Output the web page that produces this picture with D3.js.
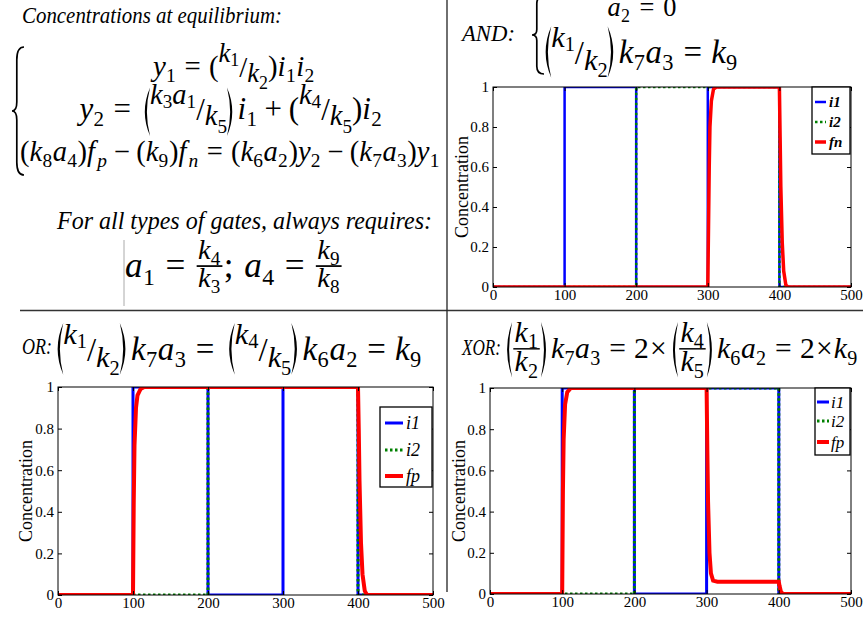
<!DOCTYPE html>
<html>
<head>
<meta charset="utf-8">
<script src="https://cdnjs.cloudflare.com/ajax/libs/d3/7.8.5/d3.min.js"></script>
<style>
  body { margin: 0; background: #fff; }
  svg { display: block; }
</style>
</head>
<body>
<div id="viz-container"></div>
<script>
// ---- data (time, concentration) ----
const xTicks = [0, 100, 200, 300, 400, 500];
const yTicks = [0, 0.2, 0.4, 0.6, 0.8, 1];

const i1 = [[0,0],[100,0],[100,1],[200,1],[200,0],[300,0],[300,1],[400,1],[400,0],[500,0]];
const i2 = [[0,0],[200,0],[200,1],[400,1],[400,0],[500,0]];

const fnAND = [[0,0],[300,0],[301,0.3],[302,0.6],[303,0.8],[305,0.93],[308,0.99],[312,1],[400,1],
               [401,0.75],[402,0.5],[404,0.22],[406,0.08],[409,0.01],[412,0],[500,0]];
const fpOR  = [[0,0],[100,0],[101,0.45],[102,0.72],[104,0.9],[106,0.96],[110,0.99],[115,1],[400,1],
               [401,0.8],[402,0.55],[404,0.25],[406,0.1],[409,0.02],[412,0],[500,0]];
const fpXOR = [[0,0],[100,0],[101,0.5],[102,0.75],[104,0.92],[107,0.98],[112,1],[300,1],
               [301,0.7],[302,0.45],[304,0.2],[306,0.1],[309,0.065],[315,0.06],[400,0.06],
               [401,0.04],[403,0.01],[406,0],[500,0]];

const FONT = '"Liberation Serif", "Times New Roman", serif';

//the svg is the canvas
let viz = d3.select("#viz-container")
    .append("svg")
        .attr("width", 863)
        .attr("height", 620)
        .style("background-color", "white");

// ---------- tiny equation layout helpers ----------
const v = (t, o = {}) => Object.assign({ t, it: true }, o);
const n = (t, o = {}) => Object.assign({ t, it: false }, o);
function vs(b, s) {
    let mk = isNaN(+s) ? v : n;
    return [v(b), mk(s, { dy: 0.22, s: 0.68, k: 0.02, pl: b === "f" ? 0.08 : 0.01 })];
}
const op = (t, sp = 0.28) => n(t, { pl: sp, pr: sp });
const P = (c, top, bot) => ({ paren: c, top, bot });
function skew(num, den) {
    return [
        num.map(([b, s]) => [v(b, { dy: -0.5, s: 0.92 }), n(s, { dy: -0.36, s: 0.62 })]),
        n("/", { dy: 0.02 }),
        den.map(([b, s]) => [v(b, { dy: 0.2, s: 0.92 }), n(s, { dy: 0.44, s: 0.62 })])
    ];
}
const frac = (num, den, o) => Object.assign({ frac: true, num, den }, o);

function layout(g, items, size) {
    let x = 0;
    items.forEach(it => {
        if (it.gap !== undefined) { x += it.gap * size; return; }
        if (it.paren) {
            let w = 0.34 * size, y0 = it.top * size, y1 = it.bot * size, m = (y0 + y1) / 2, d;
            if (it.paren === "(") d = `M${x + w},${y0} Q${x},${m} ${x + w},${y1} Q${x + 0.4 * w},${m} ${x + w},${y0} Z`;
            else d = `M${x},${y0} Q${x + w},${m} ${x},${y1} Q${x + 0.6 * w},${m} ${x},${y0} Z`;
            g.append("path").attr("d", d).attr("fill", "#000");
            x += w;
            return;
        }
        if (it.frac) {
            let s = size * it.s;
            let ng = g.append("g"), dg = g.append("g");
            let nw = layout(ng, it.num.flat(4), s), dw = layout(dg, it.den.flat(4), s);
            let w = Math.max(nw, dw) + 0.16 * size;
            ng.attr("transform", `translate(${x + (w - nw) / 2},${it.nb * size})`);
            dg.attr("transform", `translate(${x + (w - dw) / 2},${it.db * size})`);
            g.append("line")
                .attr("x1", x + 0.04 * size).attr("x2", x + w - 0.04 * size)
                .attr("y1", it.bar * size).attr("y2", it.bar * size)
                .attr("stroke", "#000").attr("stroke-width", 0.05 * size);
            x += w;
            return;
        }
        x += (it.pl || 0) * size;
        let t = g.append("text")
            .attr("x", x).attr("y", (it.dy || 0) * size)
            .attr("font-size", size * (it.s || 1))
            .attr("font-style", it.it ? "italic" : "normal")
            .text(it.t);
        x += t.node().getComputedTextLength() + ((it.pr || 0) + (it.k || 0)) * size;
    });
    return x;
}

// lays a row out so that it fills `width`, centred on cx
function mathRow(items, cx, baseline, width) {
    let g = viz.append("g").attr("font-family", FONT).attr("fill", "#000");
    let flat = items.flat(4);
    let w0 = layout(g, flat, 20);
    g.selectAll("*").remove();
    let w = layout(g, flat, 20 * width / w0);
    g.attr("transform", `translate(${cx - w / 2},${baseline})`);
}

function brace(x, y0, y1, w) {
    let h = y1 - y0, m = (y0 + y1) / 2, s = x + w * 0.4;
    viz.append("path")
        .attr("d", `M${x + w},${y0} Q${s},${y0} ${s},${y0 + h * 0.1} L${s},${m - h * 0.07} Q${s},${m} ${x},${m}
                    Q${s},${m} ${s},${m + h * 0.07} L${s},${y1 - h * 0.1} Q${s},${y1} ${x + w},${y1}`)
        .attr("fill", "none").attr("stroke", "#000").attr("stroke-width", 1.7);
}

function label(txt, x, y, size, width) {
    viz.append("text").attr("x", x).attr("y", y)
        .attr("font-family", FONT).attr("font-style", "italic").attr("font-size", size)
        .attr("textLength", width).attr("lengthAdjust", "spacingAndGlyphs")
        .text(txt);
}

// ---------- left top: equilibrium equations ----------
label("Concentrations at equilibrium:", 22, 23, 23, 260);
brace(12, 47, 175, 12);
mathRow([vs("y", "1"), op("="), n("("), skew([["k", "1"]], [["k", "2"]]), n(")"), vs("i", "1"), vs("i", "2")],
        234, 76, 162);
mathRow([vs("y", "2"), op("="), P("(", -1.02, 0.55), skew([["k", "3"], ["a", "1"]], [["k", "5"]]), P(")", -1.02, 0.55),
         vs("i", "1"), op("+", 0.22), n("("), skew([["k", "4"]], [["k", "5"]]), n(")"), vs("i", "2")],
        231, 119, 303);
mathRow([n("("), vs("k", "8"), vs("a", "4"), n(")"), vs("f", "p"), op("−", 0.22), n("("), vs("k", "9"), n(")"), vs("f", "n"),
         op("="), n("("), vs("k", "6"), vs("a", "2"), n(")"), vs("y", "2"), op("−", 0.22),
         n("("), vs("k", "7"), vs("a", "3"), n(")"), vs("y", "1")],
        230, 161, 420);

label("For all types of gates, always requires:", 57, 229, 25, 375);
const sFr = { s: 0.8, bar: -0.31, nb: -0.52, db: 0.28 };
mathRow([vs("a", "1"), op("="), frac([vs("k", "4")], [vs("k", "3")], sFr), n(";"), { gap: 0.3 },
         vs("a", "4"), op("="), frac([vs("k", "9")], [vs("k", "8")], sFr)],
        234, 277, 218);
viz.append("line").attr("x1", 124).attr("x2", 124).attr("y1", 240).attr("y2", 306)
    .attr("stroke", "#aaa").attr("stroke-width", 1);

// ---------- gate conditions ----------
label("AND:", 462, 41, 24, 53);
brace(532, -4, 74, 12);
mathRow([vs("a", "2"), op("=", 0.34), n("0")], 642, 16, 69);
mathRow([P("(", -1.12, 0.45), skew([["k", "1"]], [["k", "2"]]), P(")", -1.12, 0.45), vs("k", "7"), vs("a", "3"), op("="), vs("k", "9")],
        639, 63, 198);

label("OR:", 22, 354, 23, 30);
mathRow([P("(", -1.12, 0.45), skew([["k", "1"]], [["k", "2"]]), P(")", -1.12, 0.45), vs("k", "7"), vs("a", "3"), op("="),
         P("(", -1.12, 0.45), skew([["k", "4"]], [["k", "5"]]), P(")", -1.12, 0.45), vs("k", "6"), vs("a", "2"), op("="), vs("k", "9")],
        237, 360, 370);

label("XOR:", 462, 355, 23, 39);
const bFr = { s: 1, bar: -0.31, nb: -0.55, db: 0.45 };
mathRow([P("(", -1.22, 0.66), frac([vs("k", "1")], [vs("k", "2")], bFr), P(")", -1.22, 0.66), vs("k", "7"), vs("a", "3"), op("="),
         n("2"), op("×", 0.04), P("(", -1.22, 0.66), frac([vs("k", "4")], [vs("k", "5")], bFr), P(")", -1.22, 0.66),
         vs("k", "6"), vs("a", "2"), op("="), n("2"), op("×", 0.04), vs("k", "9")],
        680, 358, 356);

// ---------- dividers ----------
viz.append("line").attr("x1", 20).attr("x2", 863).attr("y1", 310.5).attr("y2", 310.5)
    .attr("stroke", "#333").attr("stroke-width", 1.3);
viz.append("line").attr("x1", 447).attr("x2", 447).attr("y1", 0).attr("y2", 592)
    .attr("stroke", "#222").attr("stroke-width", 1.3);

// ---------- plots ----------
let clipId = 0;
function drawPlot(box, series, leg) {
    let x = d3.scaleLinear().domain([0, 500]).range([box.x0, box.x1]);
    let y = d3.scaleLinear().domain([0, 1]).range([box.y1, box.y0]);
    let g = viz.append("g");
    let id = "clip" + (clipId++);
    g.append("clipPath").attr("id", id).append("rect")
        .attr("x", box.x0).attr("y", box.y0).attr("width", box.x1 - box.x0).attr("height", box.y1 - box.y0);

    let line = d3.line().x(d => x(d[0])).y(d => y(d[1]));
    series.forEach(s => {
        g.append("path").datum(s.data)
            .attr("clip-path", `url(#${id})`)
            .attr("d", line)
            .attr("fill", "none")
            .attr("stroke", s.color)
            .attr("stroke-width", s.width)
            .attr("stroke-dasharray", s.dash || null);
    });

    let fmt = d => d === 0 ? "0" : d === 1 ? "1" : d3.format(".1f")(d);
    let axes = [
        [d3.axisBottom(x).tickValues(xTicks), box.y1, true],
        [d3.axisTop(x).tickValues(xTicks).tickFormat(""), box.y0, true],
        [d3.axisLeft(y).tickValues(yTicks).tickFormat(fmt), box.x0, false],
        [d3.axisRight(y).tickValues(yTicks).tickFormat(""), box.x1, false]
    ];
    axes.forEach(([ax, pos, horiz]) => {
        let a = g.append("g")
            .attr("transform", horiz ? `translate(0,${pos})` : `translate(${pos},0)`)
            .call(ax.tickSize(-4).tickSizeOuter(0).tickPadding(horiz ? 2 : 4));
        a.select(".domain").remove();
        a.selectAll("line").attr("stroke", "#000");
        a.selectAll("text").attr("font-family", FONT).attr("font-size", 15).attr("fill", "#000");
    });

    g.append("rect")
        .attr("x", box.x0).attr("y", box.y0)
        .attr("width", box.x1 - box.x0).attr("height", box.y1 - box.y0)
        .attr("fill", "none").attr("stroke", "#000").attr("stroke-width", 1);

    g.append("text")
        .attr("transform", `translate(${box.lx},${(box.y0 + box.y1) / 2}) rotate(-90)`)
        .attr("text-anchor", "middle")
        .attr("font-family", FONT).attr("font-size", 18)
        .text("Concentration");

    // legend
    g.append("rect")
        .attr("x", leg.x0).attr("y", leg.y0)
        .attr("width", leg.x1 - leg.x0).attr("height", leg.y1 - leg.y0)
        .attr("fill", "#fff").attr("stroke", "#000").attr("stroke-width", 1.3);
    series.forEach((s, i) => {
        let cy = leg.rows[i];
        g.append("line")
            .attr("x1", leg.lx0).attr("x2", leg.lx1).attr("y1", cy).attr("y2", cy)
            .attr("stroke", s.color).attr("stroke-width", s.width)
            .attr("stroke-dasharray", s.dash || null);
        g.append("text")
            .attr("x", leg.tx).attr("y", cy + leg.fs * 0.33)
            .attr("font-family", FONT).attr("font-style", "italic")
            .attr("font-weight", leg.bold ? "bold" : "normal")
            .attr("font-size", leg.fs)
            .text(s.name);
    });
}

const blue = "#0000ff", green = "#008000", red = "#ff0000";

drawPlot({ x0: 493, x1: 851, y0: 87, y1: 287, lx: 468 },
    [{ name: "i1", data: i1, color: blue, width: 2.5 },
     { name: "i2", data: i2, color: green, width: 2.5, dash: "2.5,2.5" },
     { name: "fn", data: fnAND, color: red, width: 3.5 }],
    { x0: 812, x1: 850, y0: 87, y1: 154, rows: [102, 122, 142], lx0: 815, lx1: 826, tx: 829, fs: 15, bold: true });

drawPlot({ x0: 58, x1: 433, y0: 387, y1: 595, lx: 32 },
    [{ name: "i1", data: i1, color: blue, width: 3 },
     { name: "i2", data: i2, color: green, width: 3, dash: "2.5,2.5" },
     { name: "fp", data: fpOR, color: red, width: 4 }],
    { x0: 380, x1: 432, y0: 407, y1: 487, rows: [423, 450, 476], lx0: 385, lx1: 403, tx: 406, fs: 18, bold: false });

drawPlot({ x0: 490, x1: 851, y0: 388, y1: 594, lx: 465 },
    [{ name: "i1", data: i1, color: blue, width: 3 },
     { name: "i2", data: i2, color: green, width: 3, dash: "2.5,2.5" },
     { name: "fp", data: fpXOR, color: red, width: 4 }],
    { x0: 815, x1: 850, y0: 388, y1: 455, rows: [402, 421, 442], lx0: 817, lx1: 829, tx: 831, fs: 17, bold: false });
</script>
</body>
</html>
